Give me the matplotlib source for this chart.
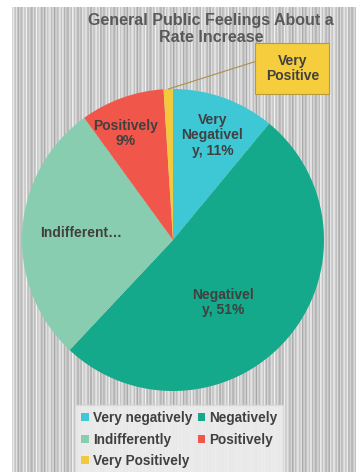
import numpy as np
import matplotlib
matplotlib.use("Agg")
from matplotlib import pyplot as plt

# Chart data
categories = ["Very negatively", "Negatively", "Indifferently", "Positively", "Very Positively"]
shares = [11, 51, 28, 9, 1]
colors = ["#3EC8D6", "#14A98A", "#88CDB0", "#F0574A", "#F2C93C"]
slice_labels = ["Very\nNegativel\ny, 11%", "Negativel\ny, 51%", "Indifferent\u2026", "Positively\n9%", None]
callout_text = "Very\nPositive"
title = "General Public Feelings About a\nRate Increase"

plt.rcParams["font.family"] = ["Liberation Sans", "DejaVu Sans"]
text_col = "#404040"

W, H = 356, 472
fig = plt.figure(figsize=(W / 100, H / 100), dpi=100)

# striped grey backdrop (decoration)
bg = fig.add_axes([12 / W, 0, (W - 12) / W, (H - 7) / H])
xs = np.arange(W - 12)
g = 0.80 + 0.07 * np.sin(xs * 1.9) + 0.05 * np.sin(xs * 0.53 + 1.0) + 0.03 * np.sin(xs * 3.7)
bg.imshow(np.tile(g, (4, 1)), cmap="gray", vmin=0, vmax=1, aspect="auto",
          interpolation="nearest")
bg.set_axis_off()

# pie
cx, cy, r = 173, 240, 151
ax = fig.add_axes([(cx - r) / W, (H - cy - r) / H, 2 * r / W, 2 * r / H])
wedges, _ = ax.pie(shares, colors=colors, startangle=90, counterclock=False,
                   radius=1, wedgeprops=dict(linewidth=0))
ax.set_xlim(-1, 1)
ax.set_ylim(-1, 1)
ax.set_aspect("equal")

# label placement: (angle tweak, radius) relative to each wedge's mid-angle
label_place = [(-0.8, 0.74), (-9.6, 0.53), (-0.7, 0.61), (4.1, 0.77)]
for w, lab, (dth, rr) in zip(wedges, slice_labels, label_place):
    if lab is None:
        continue
    mid = np.deg2rad((w.theta1 + w.theta2) / 2 + dth)
    ax.text(rr * np.cos(mid), rr * np.sin(mid), lab, ha="center", va="center",
            fontsize=10, fontweight="bold", color=text_col, linespacing=1.1)

# callout for the tiny slice
w = wedges[-1]
mid = np.deg2rad((w.theta1 + w.theta2) / 2)
ax.annotate(callout_text, xy=(np.cos(mid), np.sin(mid)), xytext=(0.79, 1.135),
            ha="center", va="center", fontsize=10, fontweight="bold", color=text_col,
            annotation_clip=False, linespacing=1.15,
            bbox=dict(boxstyle="square,pad=0.75", fc="#F5CD3D", ec="#B89A3A", lw=0.8),
            arrowprops=dict(arrowstyle="-", color="#A8904A", lw=0.8, relpos=(0, 0.85),
                            shrinkA=0, shrinkB=0))

fig.text(211 / W, 1 - 29 / H, title, ha="center", va="center", fontsize=11.5,
         fontweight="bold", color="#595959", linespacing=1.25)

# legend, filled row by row
order = [0, 2, 4, 1, 3]
handles = [plt.Rectangle((0, 0), 1, 1, fc=colors[i]) for i in order]
leg = fig.legend(handles, [categories[i] for i in order], ncol=2,
                 loc="upper left", bbox_to_anchor=(75 / W, 1 - 405 / H),
                 frameon=True, fontsize=9.8, handlelength=0.55,
                 handleheight=0.55, handletextpad=0.3, columnspacing=0.4,
                 labelspacing=0.55, borderpad=0.45, borderaxespad=0)
for t in leg.get_texts():
    t.set_fontweight("bold")
    t.set_color(text_col)
fr = leg.get_frame()
fr.set_facecolor("#EDEDED")
fr.set_alpha(0.92)
fr.set_edgecolor("#DADADA")
fr.set_boxstyle("square", pad=0)

fig.savefig("out.png", dpi=100, facecolor="white")
